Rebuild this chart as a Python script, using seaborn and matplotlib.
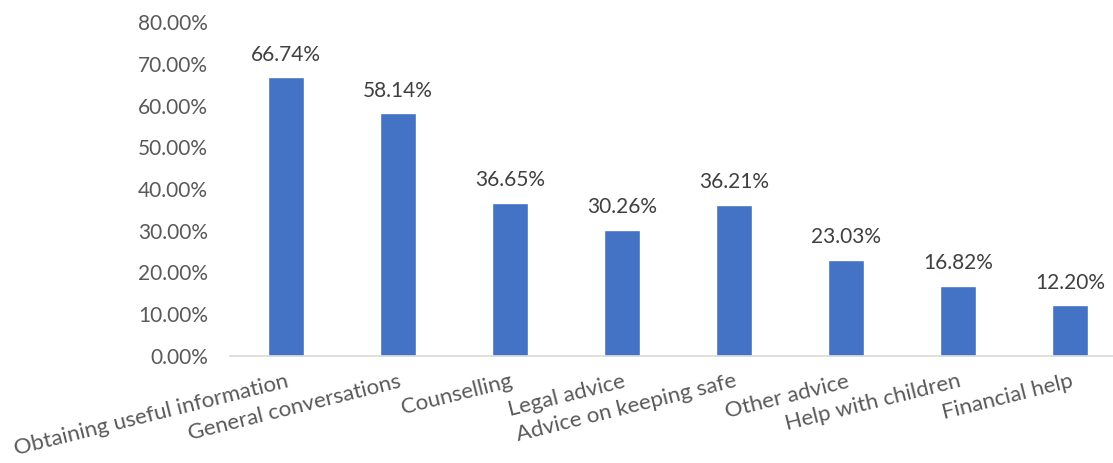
import numpy as np
import pandas as pd
import matplotlib.pyplot as plt
import seaborn as sns

categories = [
    "Obtaining useful information",
    "General conversations",
    "Counselling",
    "Legal advice",
    "Advice on keeping safe",
    "Other advice",
    "Help with children",
    "Financial help",
]
values = [66.74, 58.14, 36.65, 30.26, 36.21, 23.03, 16.82, 12.20]
yticks = [0, 10, 20, 30, 40, 50, 60, 70, 80]

sns.set_style("white")
plt.rcParams["font.family"] = ["Lato", "DejaVu Sans"]

df = pd.DataFrame({"Category": categories, "Share": values})

fig = plt.figure(figsize=(11.13, 4.63), dpi=100)
ax = fig.add_axes([230 / 1113, 1 - 356 / 463, 896 / 1113, (356 - 22) / 463])

sns.barplot(data=df, x="Category", y="Share", color="#4472C4", width=0.32,
            saturation=1, ax=ax)

for i, v in enumerate(values):
    ax.text(i, v + 3.0, f"{v:.2f}%", ha="center", va="bottom",
            fontsize=15, color="#404040")

ax.set_xlim(-0.5, len(categories) - 0.5)
ax.set_ylim(0, 80)
ax.set_yticks(yticks)
ax.set_yticklabels([f"{t:.2f}%" for t in yticks], fontsize=15, color="#595959")
ax.set_xticks(range(len(categories)))
ax.set_xticklabels(categories, rotation=14, ha="right", rotation_mode="anchor",
                   fontsize=16, color="#595959")
ax.tick_params(axis="both", length=0)
ax.tick_params(axis="x", pad=11)
ax.tick_params(axis="y", pad=16)
ax.set_xlabel("")
ax.set_ylabel("")
for s in ["top", "right", "left"]:
    ax.spines[s].set_visible(False)
ax.spines["bottom"].set_color("#D9D9D9")
ax.spines["bottom"].set_linewidth(1.2)

fig.savefig("out.png", dpi=100)
